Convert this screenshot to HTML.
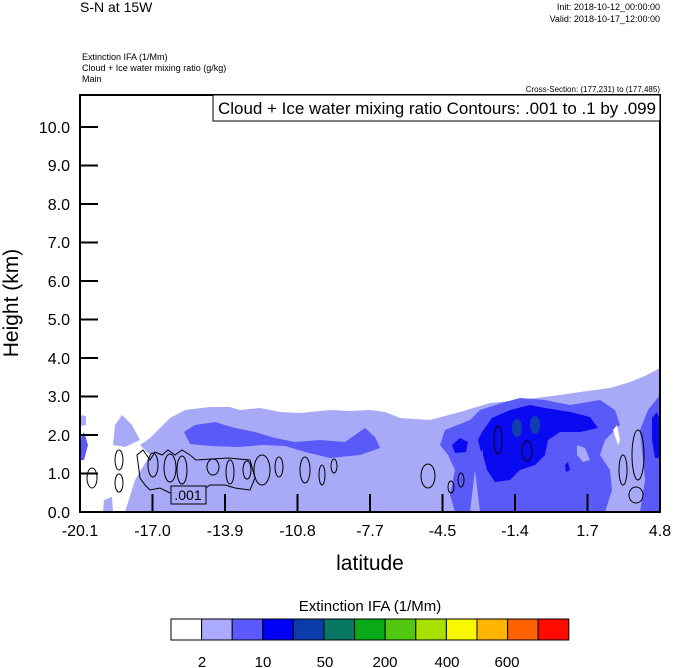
<!DOCTYPE html>
<html><head><meta charset="utf-8"><style>
body{margin:0;background:#fff;}
svg{display:block;font-family:"Liberation Sans",sans-serif;}
</style></head><body>
<svg width="674" height="668" viewBox="0 0 674 668" xmlns="http://www.w3.org/2000/svg">
<rect width="674" height="668" fill="#fff"/>
<text x="80" y="12" font-size="14">S-N at 15W</text>
<text x="660" y="10" font-size="9" text-anchor="end">Init: 2018-10-12_00:00:00</text>
<text x="660" y="22" font-size="9" text-anchor="end">Valid: 2018-10-17_12:00:00</text>
<text x="82" y="60" font-size="9">Extinction IFA   (1/Mm)</text>
<text x="82" y="71" font-size="9">Cloud + Ice water mixing ratio   (g/kg)</text>
<text x="82" y="82" font-size="9">Main</text>
<text x="660" y="92" font-size="8" text-anchor="end">Cross-Section: (177,231) to (177,485)</text>
<defs><clipPath id="c"><rect x="80" y="95" width="580" height="417"/></clipPath></defs>
<g clip-path="url(#c)">
<path fill="#a8aaf8" d="M80,415 L86,416 L86,425 L80,426Z"/>
<path fill="#a8aaf8" d="M113,445 L115,425 L122,415 L132,425 L140,440 L125,447Z"/>
<path fill="#a8aaf8" d="M103,512 L104,500 L112,497 L113,512Z"/>
<path fill="#a8aaf8" d="M125,512 L135,480 L150,455 L140,445 L150,438 L170,418 L185,410 L210,407 L230,407 L240,410 L260,408 L280,412 L300,413 L330,410 L350,411 L370,410 L385,412 L400,418 L430,420 L460,412 L490,403 L520,400 L560,395 L580,392 L610,388 L630,382 L645,376 L660,368 L660,512Z"/>
<path fill="#5a5af8" d="M184,432 L195,425 L215,422 L235,428 L255,432 L275,438 L295,442 L320,440 L345,442 L365,428 L375,437 L380,448 L360,455 L330,458 L305,452 L285,446 L262,445 L238,447 L210,446 L190,444Z"/>
<path fill="#5a5af8" d="M440,445 L445,430 L470,420 L480,410 L505,402 L520,398 L545,400 L570,405 L600,400 L615,410 L620,425 L605,440 L600,455 L610,470 L612,490 L605,512 L455,512 L450,495 L455,470 L448,455Z"/>
<path fill="#5a5af8" d="M80,440 L84,432 L88,445 L84,460 L80,460Z"/>
<path fill="#a8aaf8" d="M470,512 L475,470 L480,512Z"/>
<path fill="#a8aaf8" d="M577,445 L585,448 L590,460 L583,462 L577,455Z"/>
<path fill="#5a5af8" d="M640,430 L648,410 L660,395 L660,512 L640,512 L645,480Z"/>
<path fill="#fff" d="M613,430 L617,425 L620,440 L618,445Z"/>
<path fill="#0a0af0" d="M482,432 L492,418 L510,410 L530,405 L545,408 L570,412 L590,417 L598,428 L580,432 L560,432 L548,440 L545,455 L535,465 L520,470 L510,480 L495,482 L487,470 L483,455Z"/>
<path fill="#0a0af0" d="M452,445 L460,438 L468,442 L466,452 L455,453Z"/>
<path fill="#0a0af0" d="M478,440 L482,432 L486,445 L481,452Z"/>
<path fill="#0a0af0" d="M565,465 L568,462 L570,470 L566,472Z"/>
<path fill="#0a0af0" d="M652,418 L657,412 L660,420 L660,458 L655,458 L652,440Z"/>
<ellipse cx="517" cy="428" rx="5" ry="9" fill="#1040b0"/>
<ellipse cx="535" cy="425" rx="5" ry="9" fill="#1040b0"/>
<g fill="none" stroke="#000" stroke-width="1">
<ellipse cx="92" cy="478" rx="5" ry="10"/>
<ellipse cx="119" cy="460" rx="4" ry="10"/>
<ellipse cx="119" cy="483" rx="4" ry="9"/>
<path d="M140,478 L137,455 L143,450 L150,460 L155,452 L162,455 L168,450 L175,455 L182,450 L190,455 L196,460 L228,458 L250,460 L255,478 L250,490 L235,488 L225,485 L210,485 L200,492 L190,497 L180,490 L170,493 L160,488 L150,490 L145,485Z"/>
<ellipse cx="153" cy="465" rx="5" ry="12"/>
<ellipse cx="170" cy="468" rx="6" ry="14"/>
<ellipse cx="182" cy="470" rx="5" ry="14"/>
<ellipse cx="213" cy="467" rx="6" ry="8"/>
<ellipse cx="230" cy="472" rx="4" ry="12"/>
<ellipse cx="247" cy="470" rx="4" ry="9"/>
<ellipse cx="262" cy="470" rx="8" ry="15"/>
<ellipse cx="279" cy="467" rx="4" ry="10"/>
<ellipse cx="305" cy="470" rx="5" ry="13"/>
<ellipse cx="322" cy="475" rx="3" ry="10"/>
<ellipse cx="334" cy="466" rx="3" ry="7"/>
<ellipse cx="428" cy="476" rx="7" ry="12"/>
<ellipse cx="451" cy="487" rx="3" ry="6"/>
<ellipse cx="461" cy="480" rx="3" ry="7"/>
<ellipse cx="498" cy="440" rx="4" ry="14"/>
<ellipse cx="527" cy="451" rx="5" ry="10"/>
<ellipse cx="623" cy="470" rx="4" ry="15"/>
<ellipse cx="638" cy="455" rx="6" ry="25"/>
<ellipse cx="636" cy="495" rx="7" ry="8"/>
</g>
<rect x="171" y="486" width="35" height="18" fill="#a8aaf8" stroke="#000"/>
<text x="188" y="500" font-size="14" text-anchor="middle">.001</text>
</g>
<rect x="80" y="95" width="580" height="417" fill="none" stroke="#000" stroke-width="2"/>
<rect x="213" y="95" width="447" height="26" fill="#fff" stroke="#000" stroke-width="1"/>
<text x="656" y="114" font-size="17" text-anchor="end" textLength="438" lengthAdjust="spacingAndGlyphs">Cloud + Ice water mixing ratio Contours: .001 to .1 by .099</text>
<g stroke="#000" stroke-width="2">
<line x1="80" y1="127" x2="98" y2="127"/><line x1="80" y1="165.5" x2="98" y2="165.5"/><line x1="80" y1="204" x2="98" y2="204"/><line x1="80" y1="242.5" x2="98" y2="242.5"/><line x1="80" y1="281" x2="98" y2="281"/><line x1="80" y1="319.5" x2="98" y2="319.5"/><line x1="80" y1="358" x2="98" y2="358"/><line x1="80" y1="396.5" x2="98" y2="396.5"/><line x1="80" y1="435" x2="98" y2="435"/><line x1="80" y1="473.5" x2="98" y2="473.5"/>
<line x1="152.5" y1="512" x2="152.5" y2="494"/><line x1="225" y1="512" x2="225" y2="494"/><line x1="297.5" y1="512" x2="297.5" y2="494"/><line x1="370" y1="512" x2="370" y2="494"/><line x1="442.5" y1="512" x2="442.5" y2="494"/><line x1="515" y1="512" x2="515" y2="494"/><line x1="587.5" y1="512" x2="587.5" y2="494"/>
</g>
<g font-size="16" text-anchor="end">
<text x="70" y="133">10.0</text><text x="70" y="171">9.0</text><text x="70" y="210">8.0</text><text x="70" y="248">7.0</text><text x="70" y="287">6.0</text><text x="70" y="325">5.0</text><text x="70" y="364">4.0</text><text x="70" y="402">3.0</text><text x="70" y="441">2.0</text><text x="70" y="479">1.0</text><text x="70" y="518">0.0</text>
</g>
<g font-size="16" text-anchor="middle">
<text x="80" y="536">-20.1</text><text x="152.5" y="536">-17.0</text><text x="225" y="536">-13.9</text><text x="297.5" y="536">-10.8</text><text x="370" y="536">-7.7</text><text x="442.5" y="536">-4.5</text><text x="515" y="536">-1.4</text><text x="587.5" y="536">1.7</text><text x="660" y="536">4.8</text>
</g>
<text x="370" y="570" font-size="21" text-anchor="middle">latitude</text>
<text transform="translate(18,303) rotate(-90)" font-size="21" text-anchor="middle">Height (km)</text>
<text x="370" y="611" font-size="15" text-anchor="middle">Extinction IFA  (1/Mm)</text>
<g stroke="#000" stroke-width="1">
<rect x="171" y="619" width="30.6" height="21" fill="#fff"/>
<rect x="201.6" y="619" width="30.6" height="21" fill="#aaaaff"/>
<rect x="232.2" y="619" width="30.6" height="21" fill="#5a5aff"/>
<rect x="262.8" y="619" width="30.6" height="21" fill="#0000f8"/>
<rect x="293.4" y="619" width="30.6" height="21" fill="#0a3caa"/>
<rect x="324" y="619" width="30.6" height="21" fill="#087864"/>
<rect x="354.6" y="619" width="30.6" height="21" fill="#08aa18"/>
<rect x="385.2" y="619" width="30.6" height="21" fill="#50c810"/>
<rect x="415.8" y="619" width="30.6" height="21" fill="#a8e000"/>
<rect x="446.4" y="619" width="30.6" height="21" fill="#f8f800"/>
<rect x="477" y="619" width="30.6" height="21" fill="#ffb400"/>
<rect x="507.6" y="619" width="30.6" height="21" fill="#ff6000"/>
<rect x="538.2" y="619" width="30.6" height="21" fill="#ff0a00"/>
</g>
<g font-size="15" text-anchor="middle">
<text x="202" y="667">2</text><text x="263" y="667">10</text><text x="325" y="667">50</text><text x="385" y="667">200</text><text x="447" y="667">400</text><text x="507" y="667">600</text>
</g>
</svg>
</body></html>
